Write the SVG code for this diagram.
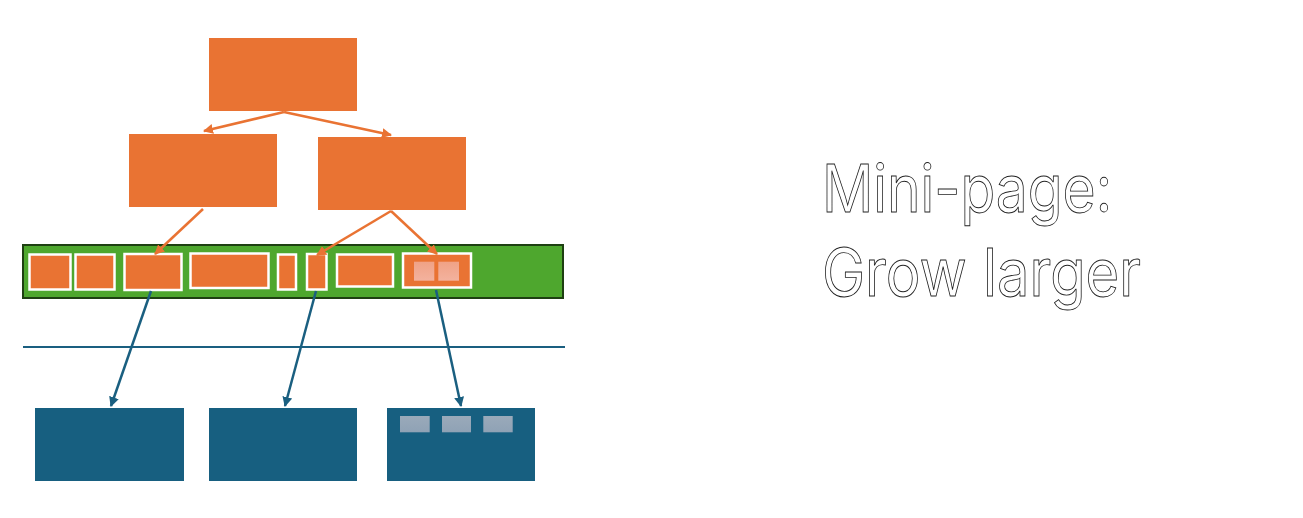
<svg xmlns="http://www.w3.org/2000/svg" width="1303" height="518" viewBox="0 0 1303 518">
<defs>
<style>
.or{fill:#E97333}
.bl{fill:#175F80}
.cell{fill:#E97333;stroke:#FFFFFF;stroke-width:2.5}
.ocon{stroke:#E97333;stroke-width:2.5;fill:none}
.bcon{stroke:#1A5F80;stroke-width:2.5;fill:none}
.pk{fill:url(#pg)}
.gy{fill:url(#gg)}
.title{font-family:Inter,"Open Sans",sans-serif;font-size:66px;fill:#FFFFFF;stroke:#222222;stroke-width:0.9;font-weight:400}
</style>
<linearGradient id="pg" x1="0" y1="0" x2="0" y2="1"><stop offset="0" stop-color="#F0A286"/><stop offset="1" stop-color="#F3B29E"/></linearGradient>
<linearGradient id="gg" x1="0" y1="0" x2="0" y2="1"><stop offset="0" stop-color="#9AAABA"/><stop offset="1" stop-color="#8FA2B5"/></linearGradient>
<marker id="oa" viewBox="0 0 10 10" refX="9" refY="5" markerWidth="4" markerHeight="4" orient="auto" markerUnits="strokeWidth"><path d="M0,0 L10,5 L0,10 z" fill="#E97333"/></marker>
<marker id="ba" viewBox="0 0 10 10" refX="9" refY="5" markerWidth="4" markerHeight="4" orient="auto" markerUnits="strokeWidth"><path d="M0,0 L10,5 L0,10 z" fill="#1A5F80"/></marker>
</defs>
<rect width="1303" height="518" fill="#FFFFFF"/>
<g id="root"><rect class="or" x="209" y="38" width="148" height="73"/></g>
<g id="inner-left"><rect class="or" x="129" y="134" width="148" height="73"/></g>
<g id="inner-right"><rect class="or" x="318" y="137" width="148" height="73"/></g>
<g id="leaf-bar">
<rect x="23" y="245" width="540" height="53" fill="#4EA72E" stroke="#1E4012" stroke-width="2"/>
<rect class="cell" x="29.5" y="254.5" width="41" height="35"/>
<rect class="cell" x="75.5" y="254.5" width="39" height="35"/>
<rect class="cell" x="124.5" y="254" width="57" height="36"/>
<rect class="cell" x="190.5" y="253.5" width="78" height="34.5"/>
<rect class="cell" x="278" y="254.5" width="18" height="35"/>
<rect class="cell" x="307" y="254" width="19.5" height="35.5"/>
<rect class="cell" x="337" y="254.5" width="56" height="32"/>
<rect class="cell" x="403" y="253.5" width="68" height="34"/>
<rect class="pk" x="414" y="261.7" width="20.3" height="19"/>
<rect class="pk" x="438.3" y="261.7" width="20.7" height="19"/>
</g>
<g id="divider"><line x1="23" y1="347" x2="565" y2="347" stroke="#1A5F80" stroke-width="2"/></g>
<g id="page-1"><rect class="bl" x="35" y="408" width="149" height="73"/></g>
<g id="page-2"><rect class="bl" x="209" y="408" width="148" height="73"/></g>
<g id="page-3"><rect class="bl" x="387" y="408" width="148" height="73"/>
<rect class="gy" x="400" y="416" width="29.7" height="16.3"/>
<rect class="gy" x="442" y="416" width="29" height="16.3"/>
<rect class="gy" x="483.3" y="416" width="29.4" height="16.3"/>
</g>
<g id="connectors">
<line class="ocon" x1="284" y1="112" x2="204" y2="131" marker-end="url(#oa)"/>
<line class="ocon" x1="284" y1="112" x2="391" y2="135" marker-end="url(#oa)"/>
<line class="ocon" x1="203" y1="209" x2="155" y2="254" marker-end="url(#oa)"/>
<line class="ocon" x1="391" y1="211" x2="317" y2="255" marker-end="url(#oa)"/>
<line class="ocon" x1="391" y1="211" x2="437" y2="254" marker-end="url(#oa)"/>
<line class="bcon" x1="151" y1="291" x2="111" y2="406" marker-end="url(#ba)"/>
<line class="bcon" x1="316" y1="291" x2="285" y2="406" marker-end="url(#ba)"/>
<line class="bcon" x1="436" y1="290" x2="461" y2="406" marker-end="url(#ba)"/>
</g>
<g id="title">
<text class="title" x="822" y="212" textLength="290" lengthAdjust="spacingAndGlyphs">Mini-page:</text>
<text class="title" x="822" y="296" textLength="319" lengthAdjust="spacingAndGlyphs">Grow larger</text>
</g>
</svg>
